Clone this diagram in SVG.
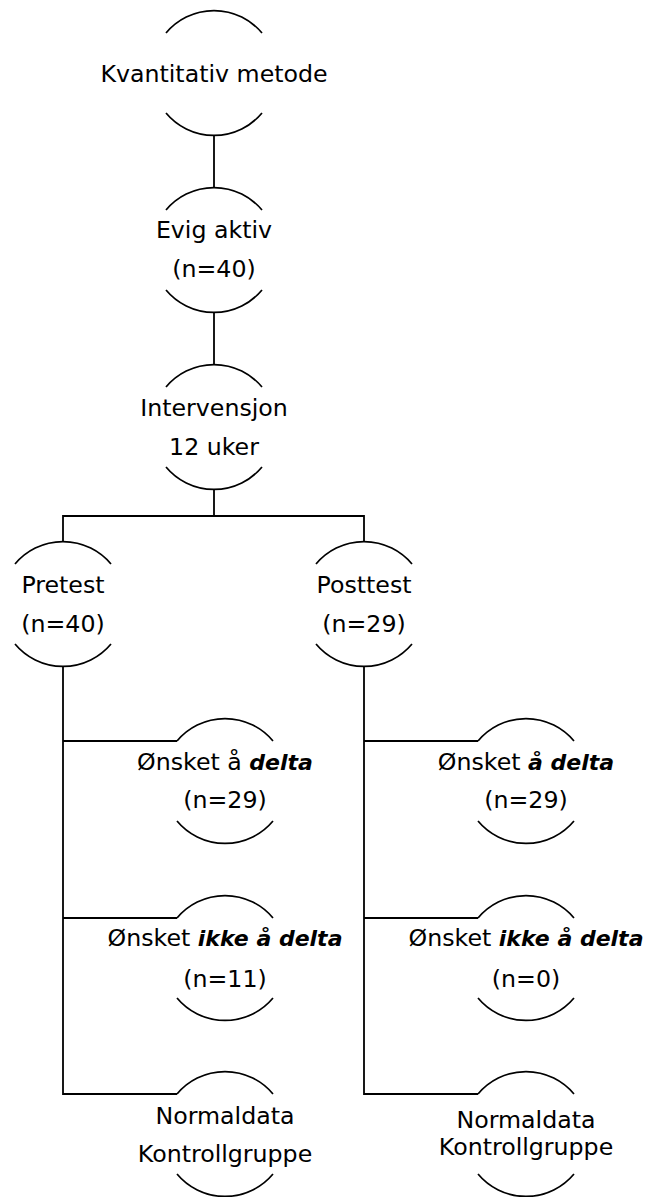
<svg xmlns="http://www.w3.org/2000/svg" xmlns:xlink="http://www.w3.org/1999/xlink" width="647" height="1197" viewBox="0 0 647 1197">
<style>
.arc{fill:none;stroke:#000;stroke-width:1.7}
.conn{fill:none;stroke:#000;stroke-width:1.8}
text{font-family:"DejaVu Sans","Liberation Sans",sans-serif;font-size:23.7px;fill:#000;text-anchor:middle}
.em{font-weight:bold;font-style:italic;font-size:22px}
</style>
<defs>
<path id="arcs" class="arc" d="M-48,-40 A62.5,62.5 0 0 1 48,-40 M-48,40 A62.5,62.5 0 0 0 48,40"/>
</defs>
<rect width="647" height="1197" fill="#fff"/>
<g id="connectors" class="conn">
<path d="M214,135.5 V187.5"/>
<path d="M214,312.5 V364.5"/>
<path d="M214,489.5 V516 M63,541.5 V516 H364 V541.5"/>
<path d="M63,666.5 V1094 H177 M63,741 H177 M63,918 H177"/>
<path d="M364,666.5 V1094 H478 M364,741 H478 M364,918 H478"/>
</g>
<g id="n1" transform="translate(214,73)"><use xlink:href="#arcs"/><text x="0" y="9">Kvantitativ metode</text></g>
<g id="n2" transform="translate(214,250)"><use xlink:href="#arcs"/><text x="0" y="-12">Evig aktiv</text><text x="0" y="27">(n=40)</text></g>
<g id="n3" transform="translate(214,427)"><use xlink:href="#arcs"/><text x="0" y="-11">Intervensjon</text><text x="0" y="28">12 uker</text></g>
<g id="pretest" transform="translate(63,604)"><use xlink:href="#arcs"/><text x="0" y="-11">Pretest</text><text x="0" y="28">(n=40)</text></g>
<g id="posttest" transform="translate(364,604)"><use xlink:href="#arcs"/><text x="0" y="-11">Posttest</text><text x="0" y="28">(n=29)</text></g>
<g id="pre-delta" transform="translate(225,781)"><use xlink:href="#arcs"/><text x="0" y="-11">Ønsket å <tspan class="em">delta</tspan></text><text x="0" y="27">(n=29)</text></g>
<g id="pre-ikke" transform="translate(225,958)"><use xlink:href="#arcs"/><text x="0" y="-12">Ønsket <tspan class="em">ikke å delta</tspan></text><text x="0" y="29">(n=11)</text></g>
<g id="pre-normal" transform="translate(225,1134)"><use xlink:href="#arcs"/><text x="0" y="-10">Normaldata</text><text x="0" y="28">Kontrollgruppe</text></g>
<g id="post-delta" transform="translate(526,781)"><use xlink:href="#arcs"/><text x="0" y="-11">Ønsket <tspan class="em">å delta</tspan></text><text x="0" y="27">(n=29)</text></g>
<g id="post-ikke" transform="translate(526,958)"><use xlink:href="#arcs"/><text x="0" y="-12">Ønsket <tspan class="em">ikke å delta</tspan></text><text x="0" y="29">(n=0)</text></g>
<g id="post-normal" transform="translate(526,1134)"><use xlink:href="#arcs"/><text x="0" y="-6">Normaldata</text><text x="0" y="21">Kontrollgruppe</text></g>
</svg>
